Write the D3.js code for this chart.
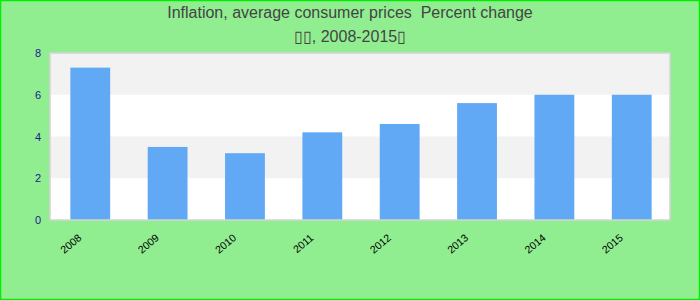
<!DOCTYPE html>
<html>
<head>
<meta charset="utf-8">
<script src="https://cdn.jsdelivr.net/npm/d3@7"></script>
<style>
  body { margin: 0; background: #fff; }
  svg { display: block; font-family: "Liberation Sans", Arial, sans-serif; }
</style>
</head>
<body>
<script>
// chart data
var years = ["2008", "2009", "2010", "2011", "2012", "2013", "2014", "2015"];
var inflation = [7.3, 3.5, 3.2, 4.2, 4.6, 5.6, 6.0, 6.0];
var yTicks = [0, 2, 4, 6, 8];
var titleLines = ["Inflation, average consumer prices  Percent change", "\u25AF\u25AF, 2008-2015\u25AF"];

window.onload = function(){
    var w = 700, h = 300;
    var m = {top: 53, right: 30, bottom: 80, left: 50};

    var svg = d3.select("body")
      .append("svg")
      .attr("width", w)
      .attr("height", h)
      .attr("class", "container");

    // background + border
    svg.append("rect")
      .attr("x", 0.5).attr("y", 0.5)
      .attr("width", w - 1).attr("height", h - 1)
      .attr("fill", "#90ee90")
      .attr("stroke", "#00ee00")
      .attr("stroke-width", 1.5);

    var x = d3.scaleBand()
      .domain(years)
      .range([m.left + 1, w - m.right + 1])
      .paddingInner(0.485)
      .paddingOuter(0.25);

    var y = d3.scaleLinear()
      .domain([0, 8])
      .range([h - m.bottom, m.top]);

    // plot area
    svg.append("rect")
      .attr("x", m.left).attr("y", m.top)
      .attr("width", w - m.left - m.right)
      .attr("height", h - m.top - m.bottom)
      .attr("fill", "#fff");

    // alternating bands
    var bands = d3.pairs(yTicks).filter(function(d, i){ return i % 2 == 1; });
    svg.selectAll(".band")
      .data(bands)
      .enter().append("rect")
      .attr("class", "band")
      .attr("x", m.left)
      .attr("y", function(d){ return y(d[1]); })
      .attr("width", w - m.left - m.right)
      .attr("height", function(d){ return y(d[0]) - y(d[1]); })
      .attr("fill", "#f2f2f2");

    // bars
    svg.selectAll(".bar")
      .data(inflation)
      .enter().append("rect")
      .attr("class", "bar")
      .attr("x", function(d, i){ return x(years[i]); })
      .attr("y", function(d){ return y(d); })
      .attr("width", x.bandwidth())
      .attr("height", function(d){ return y(0) - y(d); })
      .attr("fill", "#62a9f5");

    // plot border
    svg.append("rect")
      .attr("x", m.left).attr("y", m.top)
      .attr("width", w - m.left - m.right)
      .attr("height", h - m.top - m.bottom)
      .attr("fill", "none")
      .attr("stroke", "#d4d4d4")
      .attr("stroke-width", 1.5);

    // y axis
    var yAxis = svg.append("g")
      .attr("transform", "translate(" + (m.left - 9) + ",0)")
      .call(d3.axisLeft(y).tickValues(yTicks).tickSize(0).tickPadding(0));
    yAxis.select(".domain").remove();
    yAxis.selectAll("text")
      .attr("fill", "#1a1a8c")
      .style("font-size", "11px");

    // x axis
    var xAxis = svg.append("g")
      .attr("transform", "translate(0," + (h - m.bottom) + ")")
      .call(d3.axisBottom(x).tickSize(0));
    xAxis.select(".domain").remove();
    xAxis.selectAll("text")
      .attr("fill", "#000")
      .style("font-size", "10.5px")
      .attr("text-anchor", "end")
      .attr("dy", 0)
      .attr("y", 0)
      .attr("transform", "translate(-8,19) rotate(-40)");

    // title
    svg.selectAll(".title")
      .data(titleLines)
      .enter().append("text")
      .attr("class", "title")
      .attr("x", w / 2)
      .attr("y", function(d, i){ return 18 + i * 24; })
      .attr("text-anchor", "middle")
      .attr("fill", "#444")
      .style("font-size", "16px")
      .style("white-space", "pre")
      .text(function(d){ return d; });
};
</script>
</body>
</html>
